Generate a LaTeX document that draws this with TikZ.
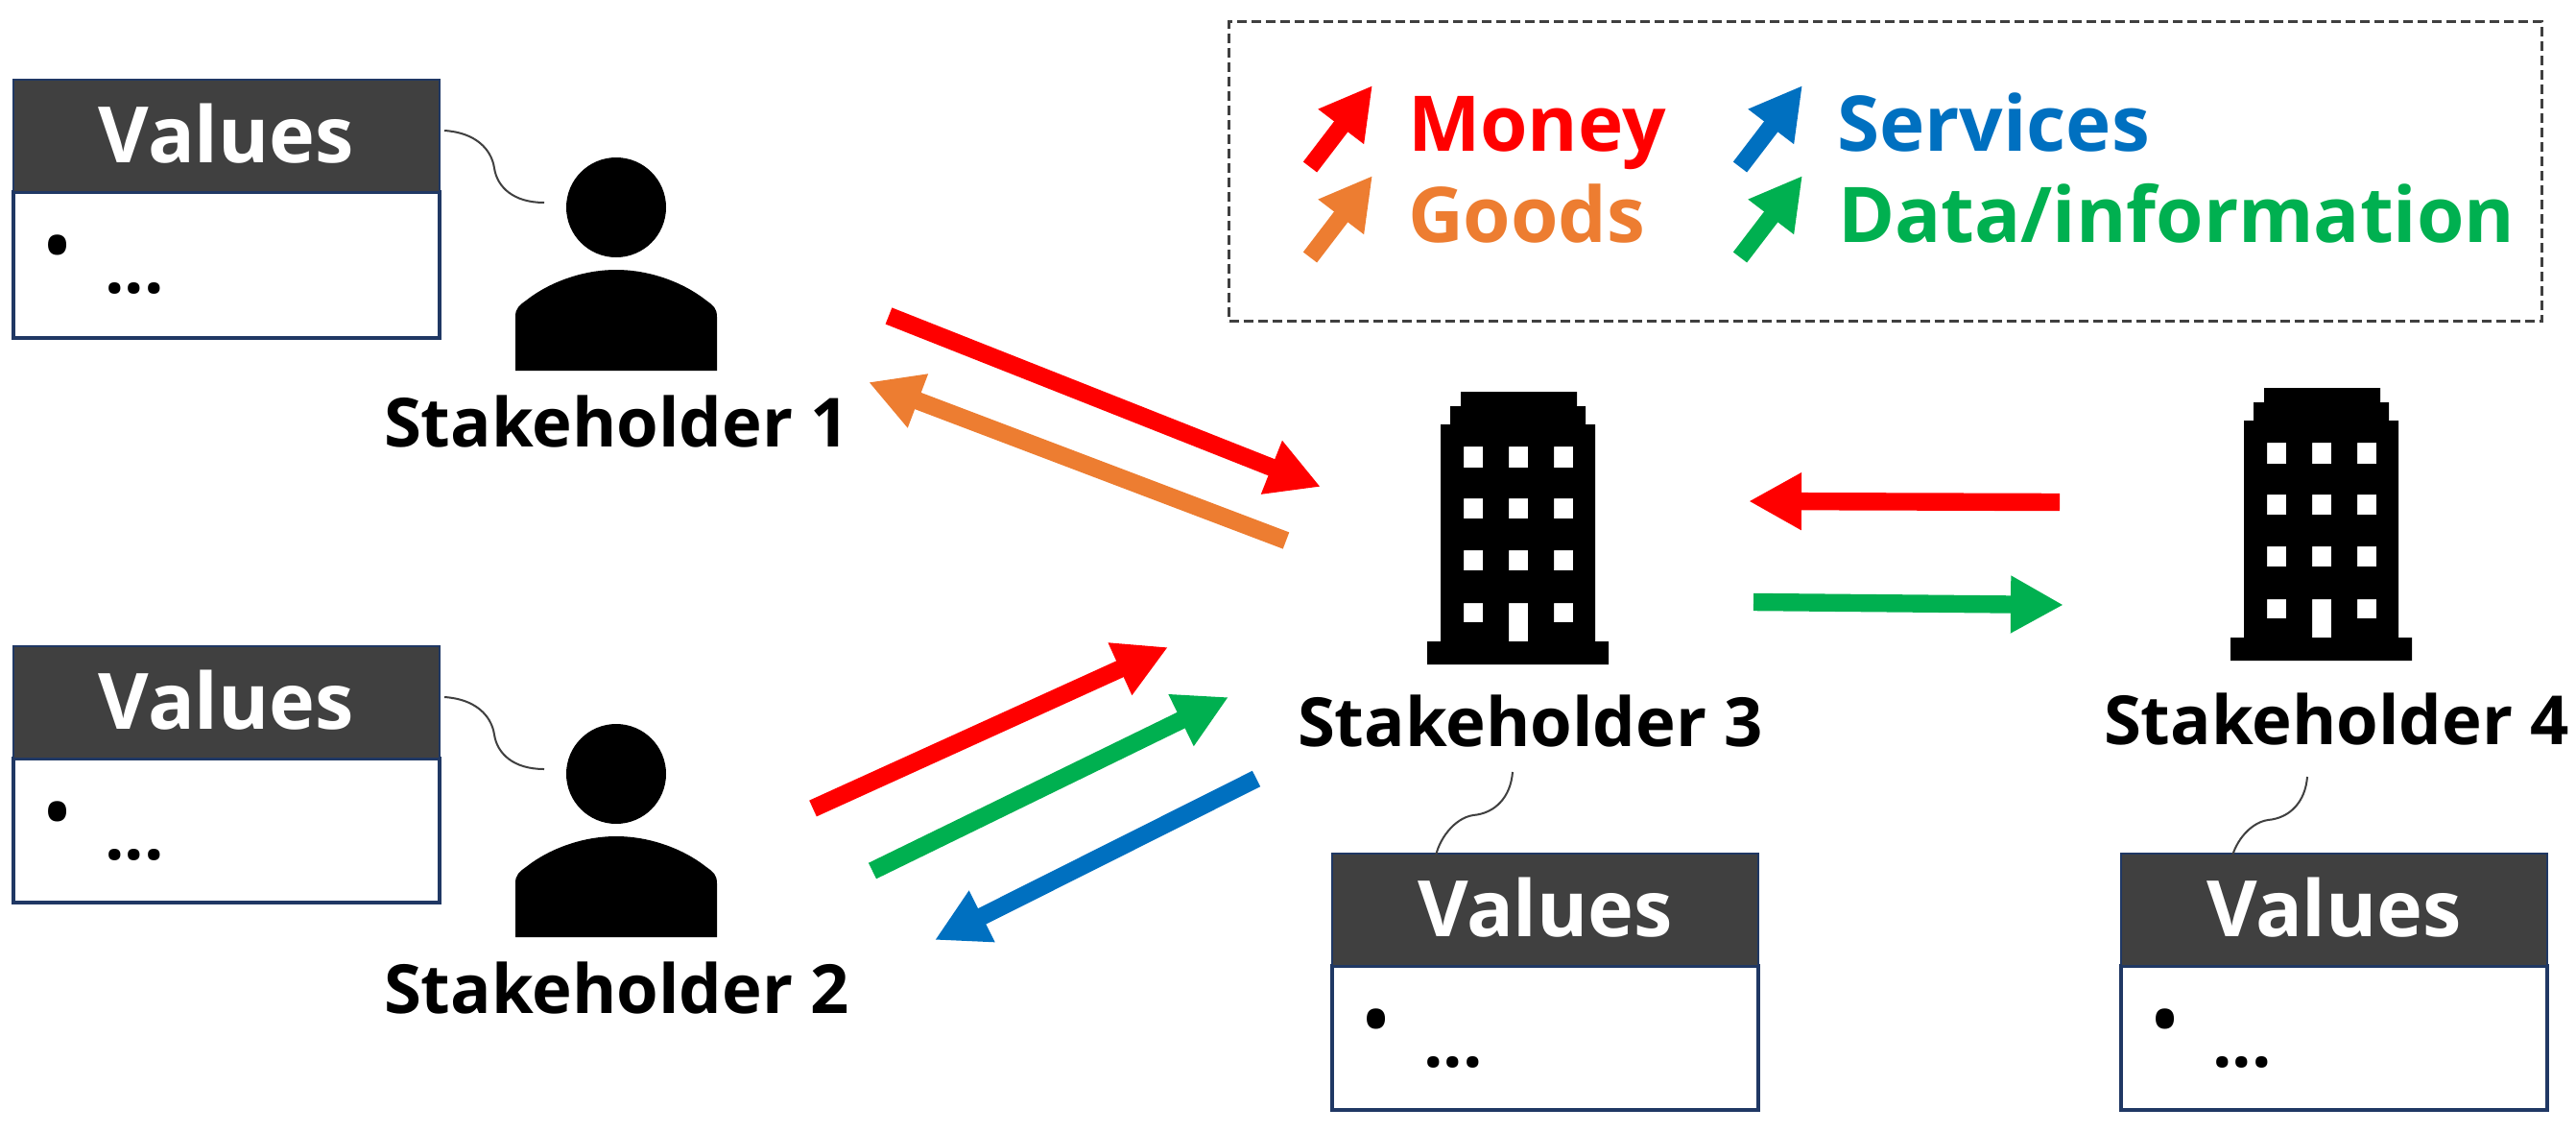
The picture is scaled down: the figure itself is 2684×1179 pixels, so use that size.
\documentclass[tikz,border=0pt]{standalone}
\usepackage{fontspec}
\setmainfont{Open Sans}
\usetikzlibrary{arrows.meta}
\definecolor{cred}{HTML}{FF0000}
\definecolor{corange}{HTML}{ED7D31}
\definecolor{cblue}{HTML}{0070C0}
\definecolor{cgreen}{HTML}{00B050}
\definecolor{chead}{HTML}{404040}
\definecolor{cnavy}{HTML}{203864}
\tikzset{
  px/.style={x=0.5pt,y=-0.5pt},
  flowarrow/.style={line width=9.2pt,-{Triangle[length=27.5pt,width=28pt]}},
  legarrow/.style={line width=9pt,-{Triangle[length=27pt,width=28pt]}},
  lead/.style={draw=chead,line width=1pt},
  head/.style={fill=chead,draw=cnavy,line width=1.2pt,text=white,minimum width=222pt,minimum height=58.5pt,inner sep=0pt,outer sep=0pt,text depth=3pt,font=\fontsize{40.5}{50}\selectfont\bfseries},
  bodybox/.style={fill=white,draw=cnavy,line width=1.8pt,minimum width=222pt,inner sep=0pt,outer sep=0pt},
  shlabel/.style={anchor=base west,inner sep=0pt,outer sep=0pt,font=\fontsize{35.3}{40}\selectfont\bfseries},
  legtext/.style={anchor=base west,inner sep=0pt,outer sep=0pt,font=\fontsize{40}{48}\selectfont\bfseries},
  bulltext/.style={anchor=base west,inner sep=0pt,outer sep=0pt,font=\fontsize{44}{50}\selectfont},
  dotstext/.style={anchor=base west,inner sep=0pt,outer sep=0pt,font=\fontsize{36}{40}\selectfont\bfseries},
}
% name, left x, top y, header bottom y, bottom y
\newcommand{\valuesbox}[5]{%
  \pgfmathsetmacro{\bxh}{0.5*(#5-#4)}
  \node[bodybox,anchor=north west,minimum height=\bxh pt] (#1b) at (#2,#4) {};
  \node[head,anchor=north west] (#1h) at (#2,#3) {Values};
  \node[bulltext] (#1bul) at ({#2+29},{#4+87}) {•};
  \node[dotstext] (#1dots) at ({#2+95},{#4+105}) {...};
}
\newcommand{\personicon}[2]{%
  \fill[black] (#1,{#2-170}) circle[radius=26pt];
  \fill[black] ({#1-105},#2) -- ({#1-105},{#2-56})
     .. controls ({#1-105},{#2-65}) and ({#1-101},{#2-68}) .. ({#1-94},{#2-73})
     .. controls ({#1-70},{#2-92}) and ({#1-35},{#2-105}) .. (#1,{#2-105})
     .. controls ({#1+35},{#2-105}) and ({#1+70},{#2-92}) .. ({#1+94},{#2-73})
     .. controls ({#1+101},{#2-68}) and ({#1+105},{#2-65}) .. ({#1+105},{#2-56})
     -- ({#1+105},#2) -- cycle;
}
% x = body left, y = top of building
\newcommand{\buildingicon}[2]{%
  \begin{scope}[shift={(#1,#2)}]
  \fill[black,even odd rule]
    (-14,260) -- (-14,284) -- (175,284) -- (175,260) -- (161,260) -- (161,34) -- (151,34) -- (151,15) -- (142,15) -- (142,0)
    -- (21,0) -- (21,15) -- (10,15) -- (10,34) -- (0,34) -- (0,260) -- cycle
    (24,57) rectangle (44,79) (71,57) rectangle (91,79) (118,57) rectangle (138,79)
    (24,111) rectangle (44,132) (71,111) rectangle (91,132) (118,111) rectangle (138,132)
    (24,165) rectangle (44,186) (71,165) rectangle (91,186) (118,165) rectangle (138,186)
    (24,220) rectangle (44,240) (71,220) rectangle (91,260) (118,220) rectangle (138,240);
  \end{scope}
}
\begin{document}
\begin{tikzpicture}[px]
\useasboundingbox (0,0) rectangle (2684,1179);
\fill[white] (0,0) rectangle (2684,1179);

% value boxes
\valuesbox{va}{14}{83}{200}{352}
\valuesbox{vb}{14}{673}{790}{940}
\valuesbox{vc}{1388}{889}{1006}{1156}
\valuesbox{vd}{2210}{889}{1006}{1156}

% icons
\personicon{642}{386}
\personicon{642}{976}
\buildingicon{1501}{408}
\buildingicon{2338}{404}

% labels
\node[shlabel] (sa) at (400,465) {Stakeholder 1};
\node[shlabel] (sb) at (400,1055) {Stakeholder 2};
\node[shlabel] (sc) at (1352,777) {Stakeholder 3};
\node[shlabel] (sd) at (2192,775) {Stakeholder 4};

% leader lines
\coordinate (la1) at (463,136); \coordinate (la2) at (567,211);
\coordinate (lb1) at (463,726); \coordinate (lb2) at (567,801);
\coordinate (lc1) at (1576,804); \coordinate (lc2) at (1495,896);
\coordinate (ld1) at (2404,809); \coordinate (ld2) at (2324,901);
\draw[lead] (la1) .. controls (495,138) and (512,155) .. (515,175) .. controls (518,195) and (535,211) .. (la2);
\draw[lead] (lb1) .. controls (495,728) and (512,745) .. (515,765) .. controls (518,785) and (535,801) .. (lb2);
\draw[lead] (lc1) .. controls (1574,830) and (1558,847) .. (1535,849) .. controls (1515,852) and (1498,875) .. (lc2);
\draw[lead] (ld1) .. controls (2402,835) and (2386,852) .. (2363,854) .. controls (2343,857) and (2326,880) .. (ld2);

% flow arrows
\coordinate (a1s) at (926,329);  \coordinate (a1e) at (1376,507);
\coordinate (a2s) at (1340,563); \coordinate (a2e) at (905,398);
\coordinate (a3s) at (847,842);  \coordinate (a3e) at (1217,674);
\coordinate (a4s) at (909,907);  \coordinate (a4e) at (1280,726);
\coordinate (a5s) at (1309,811); \coordinate (a5e) at (974,979);
\coordinate (a6s) at (2146,523); \coordinate (a6e) at (1822,522);
\coordinate (a7s) at (1827,627); \coordinate (a7e) at (2150,630);
\draw[flowarrow,cred] (a1s) -- (a1e);
\draw[flowarrow,corange] (a2s) -- (a2e);
\draw[flowarrow,cred] (a3s) -- (a3e);
\draw[flowarrow,cgreen] (a4s) -- (a4e);
\draw[flowarrow,cblue] (a5s) -- (a5e);
\draw[flowarrow,cred] (a6s) -- (a6e);
\draw[flowarrow,cgreen] (a7s) -- (a7e);

% legend
\node[draw=chead,dash pattern=on 5pt off 2.5pt,line width=1.5pt,anchor=north west,minimum width=684pt,minimum height=156pt,inner sep=0pt] (legend) at (1279,21) {};
\coordinate (m1) at (1365,174); \coordinate (m2) at (1430,89);
\coordinate (g1) at (1365,268); \coordinate (g2) at (1430,183);
\coordinate (s1) at (1813,174); \coordinate (s2) at (1878,89);
\coordinate (d1) at (1813,268); \coordinate (d2) at (1878,183);
\draw[legarrow,cred] (m1) -- (m2);
\draw[legarrow,corange] (g1) -- (g2);
\draw[legarrow,cblue] (s1) -- (s2);
\draw[legarrow,cgreen] (d1) -- (d2);
\node[legtext,text=cred] (tm) at (1467,157) {Money};
\node[legtext,text=corange] (tg) at (1467,252) {Goods};
\node[legtext,text=cblue] (ts) at (1914,157) {Services};
\node[legtext,text=cgreen] (td) at (1915,252) {Data/information};
\end{tikzpicture}
\end{document}
